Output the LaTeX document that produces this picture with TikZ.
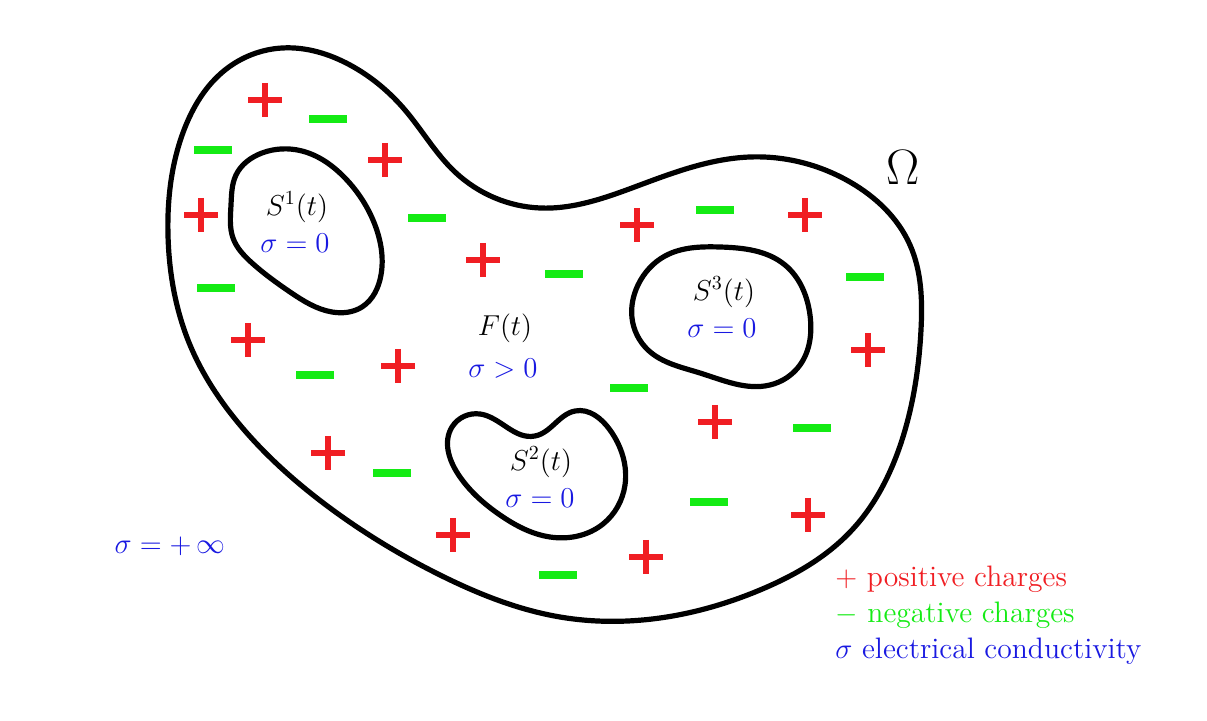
\documentclass[tikz,border=0pt]{standalone}
\usepackage{amsmath,amssymb}
\usepackage{xcolor}
\usetikzlibrary{positioning,hobby}
\definecolor{chargered}{RGB}{240,30,35}
\definecolor{chargegreen}{RGB}{20,235,20}
\definecolor{condblue}{RGB}{25,25,225}

\begin{document}
\begin{tikzpicture}[
    x=0.5pt, y=-0.5pt,
    font=\fontsize{14.8}{17}\selectfont,
    region/.style={draw=black, line width=2.6pt, line join=round},
    pluscharge/.style={draw=chargered, line width=3.2pt},
    minuscharge/.style={draw=chargegreen, line width=4.2pt},
    lbl/.style={inner sep=0pt, anchor=center},
    sig/.style={lbl, text=condblue}
  ]
    \useasboundingbox (0,0) rectangle (1207,721);

    % domain Omega
    \draw[region] plot[closed hobby] coordinates {
      (168,235) (184,130) (225,70) (282,48) (350,65) (405,110) (455,172)
      (540,208) (640,185) (750,157) (850,182) (910,245) (921,330) (902,440)
      (852,530) (760,590) (660,618) (560,617) (440,575) (330,508) (240,425)
      (190,345)};

    % inclusions
    \draw[region] plot[closed hobby] coordinates {
      (236,175) (262,153) (302,151) (345,178) (375,225) (381,275) (362,307)
      (332,312) (290,292) (252,263) (233,238) (231,205)};
    \draw[region] plot[closed hobby] coordinates {
      (452,427) (480,414) (535,436) (575,411) (610,430) (625,485) (603,524)
      (550,537) (500,515) (458,474)};
    \draw[region] plot[closed hobby] coordinates {
      (638,285) (665,256) (720,247) (785,265) (810,315) (800,365) (770,385)
      (700,373) (648,350) (632,318)};

    % charges
    \foreach \x/\y in {265/100, 385/160, 201/215, 483/260, 248/340, 398/366,
      637/225, 805/215, 868/350, 715/422, 328/453, 453/535, 646/557, 808/515}
      \draw[pluscharge] (\x-17,\y) -- ++(34,0) (\x,\y-17) -- ++(0,34);
    \foreach \x/\y in {328/119, 213/150, 427/218, 216/288, 564/274, 715/210,
      865/277, 315/375, 629/388, 812/428, 392/473, 709/502, 558/575}
      \draw[minuscharge] (\x-19,\y) -- ++(38,0);

    % labels
    \node[lbl] (s1) at (297,207) {$S^1(t)$};
    \node[sig] (s1sig) at (295,243) {$\sigma=0$};
    \node[lbl] (fluid) at (505,328) {$F(t)$};
    \node[sig] (fsig) at (503,369) {$\sigma>0$};
    \node[lbl] (s3) at (724,292) {$S^3(t)$};
    \node[sig] (s3sig) at (722,328) {$\sigma=0$};
    \node[lbl] (s2) at (541,462) {$S^2(t)$};
    \node[sig] (s2sig) at (540,498) {$\sigma=0$};
    \node[lbl, font=\fontsize{25}{29}\selectfont] (omega) at (903,168) {$\Omega$};
    \node[sig] (outside) at (170,546) {$\sigma=+\,\infty$};

    % legend
    \node[lbl, anchor=west, text=chargered] (lgplus) at (835,579) {$+$ positive charges};
    \node[lbl, anchor=west, text=chargegreen] (lgminus) at (835,615) {$-$ negative charges};
    \node[lbl, anchor=west, text=condblue] (lgsigma) at (835,651) {$\sigma$ electrical conductivity};
  \end{tikzpicture}
\end{document}
